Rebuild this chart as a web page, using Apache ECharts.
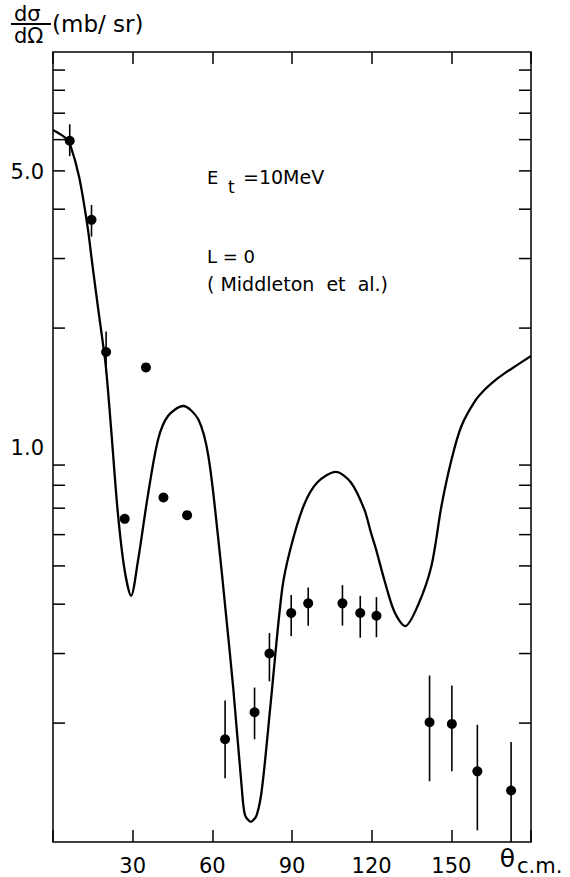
<!DOCTYPE html>
<html><head><meta charset="utf-8">
<script src="https://cdn.jsdelivr.net/npm/echarts@6/dist/echarts.min.js"></script>
<style>html,body{margin:0;padding:0;background:#fff}#c{width:570px;height:877px}</style>
</head><body><div id="c"></div>
<script>
// Measured data points (theta c.m. in degrees, dsigma/dOmega in mb/sr)
const angles   = [6.3, 14.5, 20.0, 27.0, 35.0, 41.6, 50.5, 64.8, 75.9, 81.5, 89.7, 96.1, 109.0, 115.7, 121.8, 141.8, 150.2, 159.8, 172.5];
const values   = [5.96, 3.76, 1.74, 0.658, 1.59, 0.745, 0.672, 0.182, 0.213, 0.300, 0.380, 0.402, 0.402, 0.380, 0.374, 0.201, 0.199, 0.151, 0.135];
const errHigh  = [6.56, 4.10, 1.96, null, null, null, null, 0.228, 0.246, 0.338, 0.422, 0.441, 0.447, 0.420, 0.417, 0.264, 0.249, 0.198, 0.179];
const errLow   = [5.45, 3.41, 1.54, null, null, null, null, 0.145, 0.182, 0.255, 0.332, 0.353, 0.353, 0.329, 0.330, 0.1425, 0.151, 0.107, 0.100];

// L = 0 calculation (Middleton et al.)
const curveAngles = [0, 2.3, 4.8, 6.3, 9.8, 13.0, 14.9, 17.4, 18.1, 19.9, 21.9, 24.4, 26.9, 29.4, 31.9, 35.7, 39.6, 43.3, 49.0, 54.7, 58.5, 62.3, 64.8, 67.9, 71.1, 72.3, 74.5, 76.7, 78.7, 81.9, 86.3, 89.4, 94.4, 99.5, 106.5, 112.2, 117.2, 119.7, 121.6, 124.8, 128.6, 132.6, 137.4, 142.5, 146.3, 150.1, 153.8, 158.9, 162.7, 166.5, 170.3, 174.0, 180.0];
const curveValues = [6.35, 6.22, 6.05, 5.87, 4.84, 3.62, 2.87, 2.14, 1.98, 1.60, 1.108, 0.683, 0.491, 0.420, 0.51, 0.752, 1.046, 1.198, 1.27, 1.175, 0.949, 0.58, 0.397, 0.244, 0.1366, 0.117, 0.1125, 0.117, 0.1366, 0.222, 0.437, 0.552, 0.71, 0.813, 0.865, 0.813, 0.696, 0.608, 0.552, 0.46, 0.382, 0.352, 0.397, 0.50, 0.71, 0.931, 1.13, 1.307, 1.40, 1.475, 1.54, 1.600, 1.700];

// Axis ticks / labels
const yMinorTicks = [0.2, 0.3, 0.4, 0.5, 0.6, 0.7, 0.8, 0.9, 2, 3, 4, 5, 6, 7, 8, 9];
const yLabelValues = [5, 1];
const yLabelTexts = ['5.0', '1.0'];

const FONT = 'DejaVu Sans';
const chart = echarts.init(document.getElementById('c'), null, {renderer: 'svg'});

const pointData = angles.map((a, i) => [a, values[i]]);
const errData = [];
angles.forEach((a, i) => { if (errHigh[i] != null) errData.push([a, errLow[i], errHigh[i]]); });
const curveData = curveAngles.map((a, i) => [a, curveValues[i]]);

const xCommon = {
  type: 'value', min: 0, max: 180, interval: 30,
  axisLine: {show: false},
  axisTick: {show: true, inside: true, length: 12, lineStyle: {color: '#000', width: 1.5}},
  splitLine: {show: false}
};

chart.setOption({
  animation: false,
  textStyle: {fontFamily: FONT, color: '#000'},
  grid: {left: 53, right: 39, top: 52, bottom: 35, show: true, borderColor: '#000', borderWidth: 1.5, backgroundColor: 'transparent'},
  xAxis: [
    Object.assign({}, xCommon, {
      position: 'bottom',
      axisLabel: {
        show: true, margin: 4, color: '#000', fontFamily: FONT, fontSize: 21,
        formatter: function (v) {
          if (v === 0) return '';
          if (v === 180) return '{t|θ}{s|c.m.}';
          return '{n|' + v + '}';
        },
        rich: {
          n: {fontSize: 21, fontFamily: FONT, color: '#000', padding: [9, 0, 0, 0]},
          t: {fontSize: 25, fontFamily: FONT, color: '#000', verticalAlign: 'top'},
          s: {fontSize: 21, fontFamily: FONT, color: '#000', padding: [9, 0, 0, 2]}
        }
      }
    }),
    Object.assign({}, xCommon, {position: 'top', axisLabel: {show: false}})
  ],
  yAxis: [{
    type: 'log', logBase: 10, min: 0.1, max: 10,
    axisLine: {show: false}, axisTick: {show: false}, axisLabel: {show: false}, splitLine: {show: false}
  }],
  graphic: [
    {type: 'text', left: 14, top: 3, style: {text: 'dσ', fontFamily: FONT, fontSize: 21, fill: '#000'}},
    {type: 'line', shape: {x1: 11, y1: 24, x2: 51, y2: 24}, style: {stroke: '#000', lineWidth: 1.8}},
    {type: 'text', left: 14, top: 25, style: {text: 'dΩ', fontFamily: FONT, fontSize: 21, fill: '#000'}},
    {type: 'text', left: 52, top: 12, style: {text: '(mb/ sr)', fontFamily: FONT, fontSize: 23, fill: '#000'}},
    {type: 'text', x: 207, y: 177, style: {text: 'E', fontFamily: FONT, fontSize: 18, fill: '#000', verticalAlign: 'middle'}},
    {type: 'text', x: 228, y: 187, style: {text: 't', fontFamily: FONT, fontSize: 17, fill: '#000', verticalAlign: 'middle'}},
    {type: 'text', x: 243, y: 177, style: {text: '=10MeV', fontFamily: FONT, fontSize: 19, fill: '#000', verticalAlign: 'middle'}},
    {type: 'text', x: 207, y: 256, style: {text: 'L = 0', fontFamily: FONT, fontSize: 18, fill: '#000', verticalAlign: 'middle'}},
    {type: 'text', x: 207, y: 284, style: {text: '( Middleton  et  al.)', fontFamily: FONT, fontSize: 19, fill: '#000', verticalAlign: 'middle'}}
  ],
  series: [
    {
      type: 'line', data: curveData, smooth: 0.3, showSymbol: false, symbol: 'none',
      lineStyle: {color: '#000', width: 2.3}, z: 2, clip: true
    },
    {
      type: 'custom', z: 3, clip: true,
      data: errData, encode: {x: 0, y: [1, 2]},
      renderItem: function (params, api) {
        const x = api.value(0);
        const p1 = api.coord([x, api.value(1)]);
        const p2 = api.coord([x, api.value(2)]);
        return {type: 'line', shape: {x1: p1[0], y1: p1[1], x2: p2[0], y2: p2[1]}, style: {stroke: '#000', lineWidth: 1.6}};
      }
    },
    {
      type: 'scatter', data: pointData, symbol: 'circle', symbolSize: 10,
      itemStyle: {color: '#000', opacity: 1}, z: 4
    },
    {
      type: 'custom', z: 5, silent: true,
      data: yMinorTicks.map(v => [0, v]),
      renderItem: function (params, api) {
        const cs = params.coordSys;
        const y = api.coord([0, api.value(1)])[1];
        return {type: 'group', children: [
          {type: 'line', shape: {x1: cs.x, y1: y, x2: cs.x + 12, y2: y}, style: {stroke: '#000', lineWidth: 1.5}},
          {type: 'line', shape: {x1: cs.x + cs.width - 12, y1: y, x2: cs.x + cs.width, y2: y}, style: {stroke: '#000', lineWidth: 1.5}}
        ]};
      }
    },
    {
      type: 'custom', z: 5, silent: true,
      data: yLabelValues.map(v => [0, v]),
      renderItem: function (params, api) {
        const cs = params.coordSys;
        const y = api.coord([0, api.value(1)])[1];
        return {type: 'text', x: cs.x - 9, y: y + 1, style: {text: yLabelTexts[params.dataIndex], fontFamily: FONT, fontSize: 21, fill: '#000', align: 'right', verticalAlign: 'middle'}};
      }
    }
  ]
});
</script></body></html>
